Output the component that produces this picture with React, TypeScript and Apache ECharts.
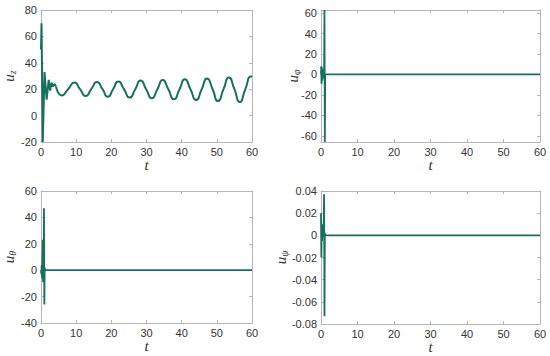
import React, { useEffect, useRef } from "react";
import * as echarts from "echarts";

// ---- data (t, value) ----
const xTicks = { min: 0, max: 60, interval: 10 };

// u_z : initial transient then a slowly growing oscillation about ~20
const uzTransient: [number, number][] = [
  [0, 50], [0.15, 70], [0.5, -20], [1.0, 33], [1.6, 12], [2.2, 27], [2.6, 19],
  [3.0, 25], [3.4, 22], [3.8, 24], [4.3, 22],
];
const uzOscillation: [number, number][] = [
  [4.3, 22], [5.9, 15.3], [7.7, 20], [9.5, 25.0], [11.1, 20], [12.7, 14.8], [14.3, 20],
  [15.9, 25.4], [17.5, 20], [19.0, 14.3], [20.5, 20], [22.0, 25.8], [23.6, 20],
  [25.2, 13.7], [26.8, 20], [28.3, 26.5], [29.9, 20], [31.5, 13.1], [33.1, 20],
  [34.6, 27.0], [36.2, 20], [37.8, 12.3], [39.4, 20], [40.9, 27.6], [42.5, 20],
  [44.1, 11.8], [45.7, 20], [47.2, 28.2], [48.8, 20], [50.3, 11.0], [51.9, 20],
  [53.4, 28.9], [55.0, 20], [56.5, 10.3], [58.1, 20], [59.7, 29.6], [60, 29.6],
];

// u_phi
const uPhi: [number, number][] = [
  [0, 0], [0.05, 8], [0.15, -9], [0.25, 7], [0.35, -6], [0.45, 5], [0.55, -4],
  [0.65, 3], [0.75, -2], [0.85, 1], [0.95, 63], [1.05, -66], [1.15, 0], [60, 0],
];

// u_theta
const uTheta: [number, number][] = [
  [0, 0], [0.1, -3], [0.2, 4], [0.3, -6], [0.4, 8], [0.5, 23], [0.58, -9],
  [0.66, 15], [0.75, -5], [0.85, 47], [0.95, -26], [1.05, 2], [1.2, 0], [60, 0],
];

// u_psi
const uPsi: [number, number][] = [
  [0, 0.02], [0.1, -0.02], [0.2, 0.01], [0.3, -0.005], [0.4, 0.01], [0.5, 0.0],
  [0.6, 0.008], [0.7, -0.002], [0.85, 0.037], [0.95, -0.073], [1.05, 0.002],
  [1.2, 0], [60, 0],
];

// y-axis ranges
const yUz = { min: -20, max: 80, interval: 20 };
const yPhi = { min: -66, max: 63 };
const yTheta = { min: -40, max: 60, interval: 20 };
const yPsi = { min: -0.08, max: 0.04, interval: 0.02 };

const LINE = "#17705c";
const AXIS = "#b5b5b5";
const TXT = "#333333";

const grids = [
  { left: 33, top: 10, width: 219, height: 132 },
  { left: 321, top: 10, width: 219, height: 132 },
  { left: 33, top: 191, width: 219, height: 132 },
  { left: 321, top: 191, width: 219, height: 133 },
];

function yName(sub: string) {
  return `{u|u}{s|${sub}}`;
}
const nameRich = {
  u: { fontFamily: "Liberation Serif", fontStyle: "italic", fontSize: 15, color: TXT },
  s: { fontFamily: "Liberation Serif", fontStyle: "italic", fontSize: 10, color: TXT, padding: [7, 0, 0, 0] },
};

export default function App() {
  const ref = useRef<HTMLDivElement>(null);
  useEffect(() => {
    if (!ref.current) return;
    const chart = echarts.init(ref.current, undefined, { renderer: "svg" });

    const yDefs = [
      { range: yUz, name: yName("z"), gap: 24, extra: {} },
      { range: yPhi, name: yName("φ"), gap: 20, extra: { splitNumber: 6 } },
      { range: yTheta, name: yName("θ"), gap: 24, extra: {} },
      { range: yPsi, name: yName("ψ"), gap: 32, extra: {} },
    ];

    const xAxis: any[] = [];
    const yAxis: any[] = [];
    grids.forEach((_, i) => {
      const base = {
        gridIndex: i,
        type: "value",
        ...xTicks,
        axisLine: { show: true, onZero: false, lineStyle: { color: AXIS, width: 1 } },
        axisTick: { show: true, inside: true, length: 3, lineStyle: { color: AXIS } },
        splitLine: { show: false },
      };
      xAxis.push({
        ...base,
        position: "bottom",
        name: "t",
        nameLocation: "middle",
        nameGap: 15,
        nameMoveOverlap: false,
        nameTextStyle: { fontFamily: "Liberation Serif", fontStyle: "italic", fontSize: 15, color: TXT },
        axisLabel: { color: TXT, fontSize: 11, fontFamily: "Liberation Sans", margin: 4 },
      });
      xAxis.push({ ...base, position: "top", axisLabel: { show: false } });

      const d = yDefs[i];
      const ybase = {
        gridIndex: i,
        type: "value",
        ...d.range,
        ...d.extra,
        axisLine: { show: true, onZero: false, lineStyle: { color: AXIS, width: 1 } },
        axisTick: { show: true, inside: true, length: 3, lineStyle: { color: AXIS } },
        splitLine: { show: false },
      };
      yAxis.push({
        ...ybase,
        position: "left",
        name: d.name,
        nameLocation: "middle",
        nameGap: d.gap,
        nameRotate: 90,
        nameMoveOverlap: false,
        nameTextStyle: { rich: nameRich },
        axisLabel: {
          color: TXT, fontSize: 11, fontFamily: "Liberation Sans", margin: 4,
          showMinLabel: i === 1 ? false : true,
          showMaxLabel: i === 1 ? false : true,
        },
      });
      yAxis.push({ ...ybase, position: "right", axisLabel: { show: false } });
    });

    const mk = (i: number, data: [number, number][], smooth: boolean | number, width = 1.8) => ({
      type: "line",
      xAxisIndex: 2 * i,
      yAxisIndex: 2 * i,
      data,
      smooth,
      showSymbol: false,
      symbol: "none",
      lineStyle: { color: LINE, width },
      clip: true,
    });

    chart.setOption({
      animation: false,
      grid: grids.map((g) => ({ ...g, containLabel: false })),
      xAxis,
      yAxis,
      series: [
        mk(0, uzTransient, false, 2),
        mk(0, uzOscillation, 0.65, 2),
        mk(1, uPhi, false),
        mk(2, uTheta, false),
        mk(3, uPsi, false),
      ],
    });
    return () => chart.dispose();
  }, []);
  return (
    <div
      ref={ref}
      style={{ position: "fixed", left: 0, top: 0, width: 550, height: 356, background: "#fff" }}
    />
  );
}
